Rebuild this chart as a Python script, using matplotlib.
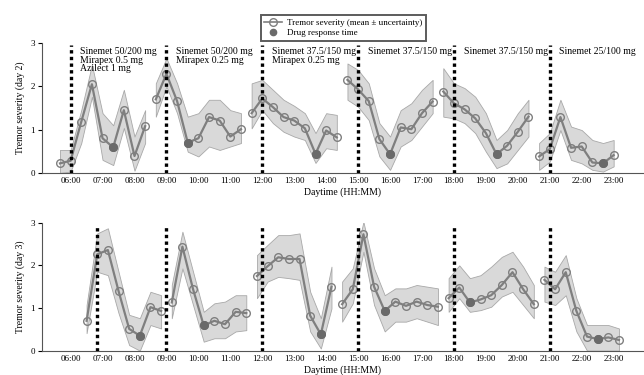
import matplotlib
matplotlib.use("Agg")
import matplotlib.pyplot as plt
from matplotlib.lines import Line2D

plt.rcParams['font.family'] = ['Liberation Serif', 'DejaVu Serif']

# ---- day 2 (top panel) ----
d2_times = [
    ["05:40", "06:00", "06:20", "06:40", "07:00", "07:20", "07:40", "08:00", "08:20"],
    ["08:40", "09:00", "09:20", "09:40", "10:00", "10:20", "10:40", "11:00", "11:20"],
    ["11:40", "12:00", "12:20", "12:40", "13:00", "13:20", "13:40", "14:00", "14:20"],
    ["14:40", "15:00", "15:20", "15:40", "16:00", "16:20", "16:40", "17:00", "17:20"],
    ["17:40", "18:00", "18:20", "18:40", "19:00", "19:20", "19:40", "20:00", "20:20"],
    ["20:40", "21:00", "21:20", "21:40", "22:00", "22:20", "22:40", "23:00"],
]
d2_mean = [
    [0.22, 0.28, 1.18, 2.05, 0.80, 0.59, 1.45, 0.39, 1.08],
    [1.70, 2.29, 1.66, 0.70, 0.80, 1.29, 1.21, 0.84, 1.01],
    [1.38, 1.72, 1.52, 1.29, 1.21, 1.03, 0.44, 0.98, 0.82],
    [2.15, 1.93, 1.66, 0.78, 0.43, 1.05, 1.01, 1.38, 1.65],
    [1.88, 1.61, 1.47, 1.26, 0.92, 0.43, 0.63, 0.95, 1.30],
    [0.38, 0.55, 1.29, 0.58, 0.61, 0.24, 0.22, 0.41],
]
d2_lo = [
    [0.00, 0.03, 0.69, 1.76, 0.30, 0.18, 1.04, 0.05, 0.69],
    [1.30, 2.00, 1.38, 0.49, 0.38, 0.61, 0.53, 0.61, 0.69],
    [1.03, 1.45, 1.15, 0.95, 0.84, 0.76, 0.23, 0.57, 0.53],
    [1.69, 1.53, 1.22, 0.38, 0.07, 0.61, 0.76, 1.07, 1.38],
    [1.30, 1.26, 1.15, 0.92, 0.49, 0.11, 0.22, 0.53, 0.84],
    [0.07, 0.26, 0.99, 0.30, 0.22, 0.07, 0.03, 0.15],
]
d2_hi = [
    [0.53, 0.53, 1.45, 2.50, 1.38, 1.10, 1.92, 0.84, 1.45],
    [2.07, 2.65, 2.07, 1.30, 1.38, 1.69, 1.69, 1.45, 1.38],
    [2.07, 2.15, 1.92, 1.69, 1.55, 1.38, 0.92, 1.38, 1.34],
    [2.53, 2.38, 2.07, 1.15, 0.84, 1.45, 1.61, 1.92, 2.15],
    [2.42, 2.07, 1.96, 1.76, 1.38, 0.76, 0.99, 1.38, 1.69],
    [0.69, 0.92, 1.69, 1.07, 0.99, 0.76, 0.69, 0.76],
]
d2_response = ["07:20", "09:40", "13:40", "16:00", "19:20", "22:40"]
d2_doses = ["06:00", "09:00", "12:00", "15:00", "18:00", "21:00"]
d2_labels = [
    "Sinemet 50/200 mg\nMirapex 0.5 mg\nAzilect 1 mg",
    "Sinemet 50/200 mg\nMirapex 0.25 mg",
    "Sinemet 37.5/150 mg\nMirapex 0.25 mg",
    "Sinemet 37.5/150 mg",
    "Sinemet 37.5/150 mg",
    "Sinemet 25/100 mg",
]

# ---- day 3 (bottom panel) ----
d3_times = [
    ["06:30", "06:50", "07:10", "07:30", "07:50", "08:10", "08:30", "08:50"],
    ["09:10", "09:30", "09:50", "10:10", "10:30", "10:50", "11:10", "11:30"],
    ["11:50", "12:10", "12:30", "12:50", "13:10", "13:30", "13:50", "14:10"],
    ["14:30", "14:50", "15:10", "15:30", "15:50", "16:10", "16:30", "16:50", "17:10", "17:30"],
    ["17:50", "18:10", "18:30", "18:50", "19:10", "19:30", "19:50", "20:10", "20:30"],
    ["20:50", "21:10", "21:30", "21:50", "22:10", "22:30", "22:50", "23:10"],
]
d3_mean = [
    [0.70, 2.26, 2.36, 1.40, 0.51, 0.35, 1.02, 0.93],
    [1.13, 2.44, 1.44, 0.59, 0.70, 0.62, 0.91, 0.88],
    [1.75, 1.98, 2.19, 2.15, 2.15, 0.82, 0.38, 1.50],
    [1.09, 1.44, 2.73, 1.50, 0.93, 1.15, 1.05, 1.15, 1.07, 1.03],
    [1.23, 1.48, 1.13, 1.20, 1.30, 1.54, 1.84, 1.44, 1.09],
    [1.66, 1.44, 1.84, 0.93, 0.33, 0.27, 0.31, 0.25],
]
d3_lo = [
    [0.41, 1.85, 1.77, 0.88, 0.13, 0.00, 0.60, 0.52],
    [0.76, 1.93, 1.07, 0.21, 0.29, 0.29, 0.45, 0.48],
    [1.23, 1.62, 1.73, 1.70, 1.66, 0.45, 0.05, 0.99],
    [0.68, 1.11, 2.32, 1.07, 0.45, 0.68, 0.68, 0.76, 0.68, 0.60],
    [0.91, 1.23, 0.91, 0.95, 1.03, 1.27, 1.38, 1.07, 0.76],
    [1.15, 1.07, 1.30, 0.45, 0.00, 0.00, 0.00, 0.00],
]
d3_hi = [
    [1.07, 2.75, 2.87, 1.85, 0.84, 0.76, 1.38, 1.30],
    [1.54, 2.79, 1.85, 0.91, 1.11, 1.15, 1.30, 1.30],
    [2.24, 2.48, 2.71, 2.71, 2.75, 1.38, 0.76, 1.97],
    [1.62, 1.93, 3.02, 1.93, 1.30, 1.46, 1.46, 1.54, 1.50, 1.46],
    [1.70, 2.00, 1.70, 1.77, 1.97, 2.20, 2.32, 1.97, 1.54],
    [1.97, 1.85, 2.24, 1.23, 0.60, 0.60, 0.60, 0.52],
]
d3_response = ["08:10", "10:10", "13:50", "15:50", "18:30", "22:30"]
d3_doses = ["06:50", "09:00", "12:00", "15:00", "18:00", "21:00"]

hour_ticks = ["%02d:00" % h for h in range(6, 24)]

BAND = "#d9d9d9"
BAND_EDGE = "#a8a8a8"
LINE = "#7f7f7f"
DOT = "#6a6a6a"


def hrs(s):
    h, m = s.split(":")
    return int(h) + int(m) / 60.0


def draw_day(ax, times, mean, lo, hi, response, doses, ylabel):
    for tt, mm, ll, hh in zip(times, mean, lo, hi):
        t = [hrs(s) for s in tt]
        ax.fill_between(t, ll, hh, facecolor=BAND, edgecolor=BAND_EDGE, lw=0.6, zorder=1)
        ax.plot(t, mm, "-o", color=LINE, lw=1.6, ms=5.5, mfc="none",
                mec=LINE, mew=1.0, zorder=3)
        for s, v in zip(tt, mm):
            if s in response:
                ax.plot(hrs(s), v, "o", color=DOT, ms=5.5, zorder=4)
    for d in doses:
        ax.vlines(hrs(d), 0, 2.95, colors="k", linestyles=(0, (1, 1)), lw=2.4, zorder=5)

    ax.set_xlim(5.1, 23.95)
    ax.set_ylim(0, 3)
    ax.set_yticks([0, 1, 2, 3])
    ax.set_xticks([hrs(s) for s in hour_ticks])
    ax.set_xticklabels(hour_ticks)
    ax.tick_params(axis="x", length=0, labelsize=6.5, pad=3)
    ax.tick_params(axis="y", length=3, labelsize=6.5, pad=2)
    ax.spines["top"].set_visible(False)
    ax.spines["right"].set_visible(False)
    ax.spines["left"].set_color("#555555")
    ax.spines["bottom"].set_color("#555555")
    ax.set_ylabel(ylabel, fontsize=7)
    ax.set_xlabel("Daytime (HH:MM)", fontsize=7, labelpad=2)


fig = plt.figure(figsize=(6.44, 3.75), dpi=100)
ax1 = fig.add_axes([0.065, 0.539, 0.935, 0.346])
ax2 = fig.add_axes([0.065, 0.065, 0.935, 0.341])

draw_day(ax1, d2_times, d2_mean, d2_lo, d2_hi, d2_response, d2_doses, "Tremor severity (day 2)")
draw_day(ax2, d3_times, d3_mean, d3_lo, d3_hi, d3_response, d3_doses, "Tremor severity (day 3)")

for d, txt in zip(d2_doses, d2_labels):
    ax1.text(hrs(d) + 0.3, 2.9, txt, fontsize=7, va="top", ha="left",
             linespacing=0.9, zorder=6)

handles = [
    Line2D([], [], color=LINE, lw=1.2, marker="o", ms=5.5, mfc="none", mec=LINE),
    Line2D([], [], color=DOT, lw=0, marker="o", ms=4.5),
]
leg = fig.legend(handles, ["Tremor severity (mean \u00b1 uncertainty)", "Drug response time"],
                 loc="upper center", bbox_to_anchor=(0.533, 0.972), fontsize=6.5,
                 frameon=True, fancybox=False, borderpad=0.4, labelspacing=0.2,
                 handlelength=2.0, handletextpad=0.5)
leg.get_frame().set_edgecolor("#333333")
leg.get_frame().set_linewidth(1.4)

fig.savefig("out.png", dpi=100)
